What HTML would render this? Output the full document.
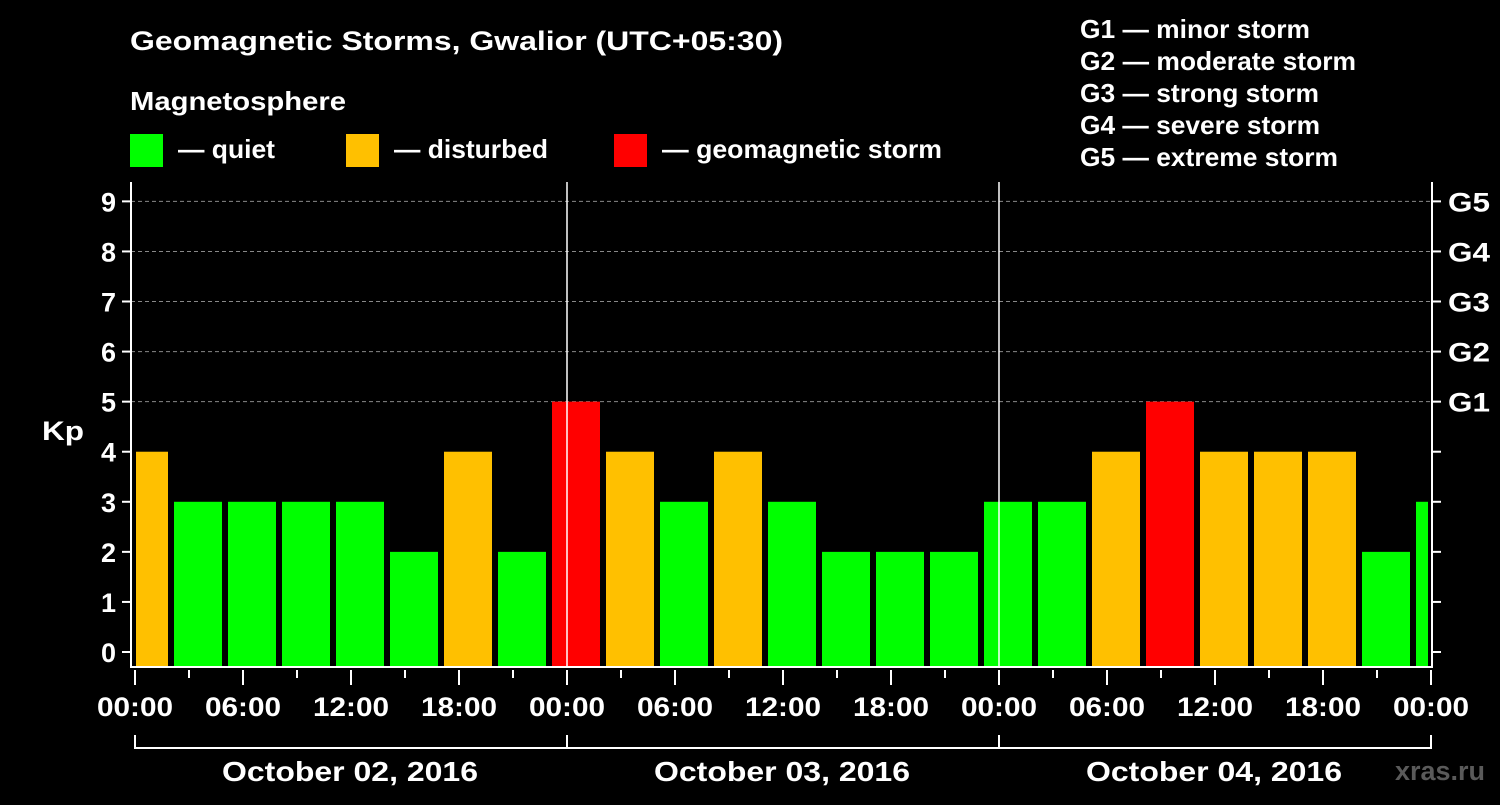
<!DOCTYPE html>
<html><head><meta charset="utf-8"><style>
body{margin:0;background:#000;width:1500px;height:800px;overflow:hidden}
svg text{font-family:"Liberation Sans",Arial,sans-serif;font-weight:bold;fill:#fff}
</style></head><body>
<svg id="c" width="1500" height="800" xmlns="http://www.w3.org/2000/svg">
<text x="130" y="50" font-size="27" textLength="653" lengthAdjust="spacingAndGlyphs">Geomagnetic Storms, Gwalior (UTC+05:30)</text>
<text x="130" y="110" font-size="26" textLength="216" lengthAdjust="spacingAndGlyphs">Magnetosphere</text>
<rect x="130" y="134" width="33" height="33" fill="#00ff00"/>
<text x="178" y="158" font-size="26" textLength="97" lengthAdjust="spacingAndGlyphs">— quiet</text>
<rect x="346" y="134" width="33" height="33" fill="#ffc000"/>
<text x="394" y="158" font-size="26" textLength="154" lengthAdjust="spacingAndGlyphs">— disturbed</text>
<rect x="614" y="134" width="33" height="33" fill="#ff0000"/>
<text x="662" y="158" font-size="26" textLength="280" lengthAdjust="spacingAndGlyphs">— geomagnetic storm</text>
<text x="1080" y="38" font-size="26" textLength="230" lengthAdjust="spacingAndGlyphs">G1 — minor storm</text>
<text x="1080" y="70" font-size="26" textLength="276" lengthAdjust="spacingAndGlyphs">G2 — moderate storm</text>
<text x="1080" y="102" font-size="26" textLength="239" lengthAdjust="spacingAndGlyphs">G3 — strong storm</text>
<text x="1080" y="134" font-size="26" textLength="240" lengthAdjust="spacingAndGlyphs">G4 — severe storm</text>
<text x="1080" y="166" font-size="26" textLength="258" lengthAdjust="spacingAndGlyphs">G5 — extreme storm</text>
<text x="42" y="440" font-size="27" textLength="42" lengthAdjust="spacingAndGlyphs">Kp</text>
<text x="1395" y="780" font-size="27" textLength="90" lengthAdjust="spacingAndGlyphs" style="fill:#5a5a5a">xras.ru</text>
<g id="plot"></g>
</svg>
<script>
const kpValues=[4,3,3,3,3,2,4,2,5,4,3,4,3,2,2,2,3,3,4,5,4,4,4,2,3];
const yTicks=[0,1,2,3,4,5,6,7,8,9];
const gLabels=["G1","G2","G3","G4","G5"];
const timeLabels=["00:00","06:00","12:00","18:00"];
const dayLabels=["October 02, 2016","October 03, 2016","October 04, 2016"];
const NS="http://www.w3.org/2000/svg";
const g=document.getElementById('plot');
const X0=135,PXH=18,L=131,R=1432,TOP=182,BOT=667,OFF=-7/6;
const xs=h=>X0+h*PXH;
const ys=v=>652-v*50.07;
function mk(t,a){const e=document.createElementNS(NS,t);for(const k in a)e.setAttribute(k,a[k]);g.appendChild(e);return e;}
yTicks.forEach(v=>{
 if(v>=5){const l=mk('line',{x1:L,x2:R,y1:ys(v),y2:ys(v),stroke:'#888','stroke-dasharray':'4,3','stroke-width':1});
 
 }
 const t=mk('line',{x1:122,x2:L,y1:ys(v),y2:ys(v),stroke:'#fff','stroke-width':2});
 
 
 const t2=mk('line',{x1:R,x2:R+9,y1:ys(v),y2:ys(v),stroke:'#fff','stroke-width':2});
 
 
 const tx=mk('text',{x:116,y:ys(v)+10,'font-size':27,'text-anchor':'end'});tx.textContent=v;
 
 
});
gLabels.forEach((s,i)=>{const tx=mk('text',{x:1448,y:ys(5+i)+10,'font-size':27,textLength:42,lengthAdjust:'spacingAndGlyphs'});tx.textContent=s;
 
 });
kpValues.forEach((v,i)=>{
 let x1=xs(OFF+3*i)+6,x2=xs(OFF+3*i+3);
 x1=Math.max(x1,L+5);x2=Math.min(x2,R-4);
 if(x2<=x1)return;
 const c=v>=5?'#ff0000':(v>=4?'#ffc000':'#00ff00');
 const b=mk('rect',{x:x1,y:ys(v),width:x2-x1,height:BOT-ys(v),fill:c});
 
 
});
[[L,TOP,L,BOT+1],[R,TOP,R,BOT+1],[L-1,BOT,R+1,BOT]].forEach(p=>{const l=mk('line',{x1:p[0],y1:p[1],x2:p[2],y2:p[3],stroke:'#fff','stroke-width':2});
 
 });
[1,2].forEach(d=>{const l=mk('line',{x1:xs(24*d),x2:xs(24*d),y1:TOP,y2:BOT,stroke:'#fff','stroke-width':1.5});
 
 });
for(let h=0;h<=72;h+=3){const major=h%6==0;
 const l=mk('line',{x1:xs(h),x2:xs(h),y1:670,y2:major?685:678,stroke:'#fff','stroke-width':2});
 
 
 if(major){const tx=mk('text',{x:xs(h),y:716,'font-size':27,'text-anchor':'middle',textLength:76,lengthAdjust:'spacingAndGlyphs'});tx.textContent=timeLabels[(h/6)%4];
 
 }
}
dayLabels.forEach((s,d)=>{
 const br=mk('path',{d:`M${xs(24*d)},735V748H${xs(24*d+24)}V735`,stroke:'#fff','stroke-width':2,fill:'none'});
 
 
 const tx=mk('text',{x:xs(24*d+12)-1,y:781,'font-size':28,'text-anchor':'middle',textLength:256,lengthAdjust:'spacingAndGlyphs'});tx.textContent=s;
 
 
});
</script>
</body></html>
